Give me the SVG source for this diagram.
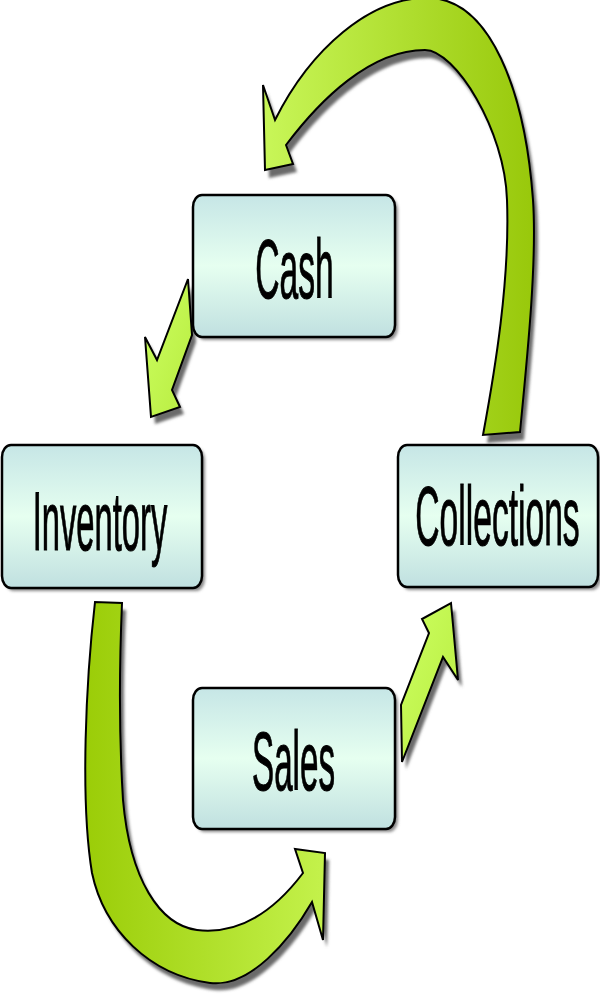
<svg xmlns="http://www.w3.org/2000/svg" width="600" height="1000" viewBox="0 0 600 1000">
  <defs>
    <linearGradient id="boxFill" x1="0" y1="0" x2="0" y2="1">
      <stop offset="0" stop-color="#c6e6e6"/>
      <stop offset="0.5" stop-color="#e6fff0"/>
      <stop offset="1" stop-color="#c0e0e0"/>
    </linearGradient>
    <linearGradient id="topArrowFill" gradientUnits="userSpaceOnUse" x1="265" y1="0" x2="535" y2="0">
      <stop offset="0" stop-color="#c8f658"/>
      <stop offset="1" stop-color="#98c80a"/>
    </linearGradient>
    <linearGradient id="botArrowFill" gradientUnits="userSpaceOnUse" x1="80" y1="0" x2="326" y2="0">
      <stop offset="0" stop-color="#9acc06"/>
      <stop offset="1" stop-color="#c4f24c"/>
    </linearGradient>
    <linearGradient id="smallArrowFill" x1="0" y1="0" x2="1" y2="1">
      <stop offset="0" stop-color="#ccff60"/>
      <stop offset="1" stop-color="#b8ec40"/>
    </linearGradient>
    <filter id="shadow" x="-20%" y="-20%" width="140%" height="140%">
      <feGaussianBlur stdDeviation="1.5"/>
    </filter>
    <style>
      .box { fill: url(#boxFill); stroke: #000; stroke-width: 2.5; }
      .boxShadow { fill: #8a8a8a; filter: url(#shadow); }
      .arrowShadow { fill: #6a6a6a; filter: url(#shadow); }
      .arrow { stroke: #000; stroke-width: 2; stroke-linejoin: miter; }
      .label { font-family: "Liberation Sans", Arial, sans-serif; font-size: 84px; fill: #000; stroke: #000; stroke-width: 0.8; vector-effect: non-scaling-stroke; text-anchor: middle; }
    </style>
  </defs>

  <g id="connectors">
    <g id="arrow-collections-cash">
      <path class="arrowShadow" transform="translate(4,8)" d="M275,120 L263,85 L265,170 L293,164 L286,145 C320,100 370,50 425,50 C455,50 505,130 507,200 C510,280 495,370 483,435 L520,432 C528,350 537,260 533,200 C525,90 490,0 430,-2 C370,-4 310,50 275,120 Z"/>
      <path class="arrow" fill="url(#topArrowFill)" d="M275,120 L263,85 L265,170 L293,164 L286,145 C320,100 370,50 425,50 C455,50 505,130 507,200 C510,280 495,370 483,435 L520,432 C528,350 537,260 533,200 C525,90 490,0 430,-2 C370,-4 310,50 275,120 Z"/>
    </g>
    <g id="arrow-cash-inventory">
      <path class="arrowShadow" transform="translate(4,7)" d="M188,279 L192,335 L172,390 L180,407 L151,417 L145,337 L157,360 Z"/>
      <path class="arrow" fill="url(#smallArrowFill)" d="M188,279 L192,335 L172,390 L180,407 L151,417 L145,337 L157,360 Z"/>
    </g>
    <g id="arrow-inventory-sales">
      <path class="arrowShadow" transform="translate(4,7)" d="M95,602 C86,680 80,800 92,873 C104,930 150,975 210,983 C250,988 290,940 312,902 L323,940 L325,853 L295,849 L303,873 C275,910 240,935 197,930 C160,925 130,880 123,800 C118,720 120,650 122,603 Z"/>
      <path class="arrow" fill="url(#botArrowFill)" d="M95,602 C86,680 80,800 92,873 C104,930 150,975 210,983 C250,988 290,940 312,902 L323,940 L325,853 L295,849 L303,873 C275,910 240,935 197,930 C160,925 130,880 123,800 C118,720 120,650 122,603 Z"/>
    </g>
    <g id="arrow-sales-collections">
      <path class="arrowShadow" transform="translate(4,7)" d="M401,705 L402,762 L443,657 L458,680 L451,603 L422,619 L429,633 Z"/>
      <path class="arrow" fill="url(#smallArrowFill)" d="M401,705 L402,762 L443,657 L458,680 L451,603 L422,619 L429,633 Z"/>
    </g>
  </g>

  <g id="node-cash">
    <rect class="boxShadow" x="196" y="198" width="202" height="142" rx="9" ry="12"/>
    <rect class="box" x="193" y="195" width="202" height="142" rx="9" ry="12"/>
    <text class="label" transform="translate(294.5,298) scale(0.4,1)">Cash</text>
  </g>

  <g id="node-inventory">
    <rect class="boxShadow" x="5" y="448" width="200" height="143" rx="9" ry="12"/>
    <rect class="box" x="2" y="445" width="200" height="143" rx="9" ry="12"/>
    <text class="label" transform="translate(100,550) scale(0.39,1)">Inventory</text>
  </g>

  <g id="node-collections">
    <rect class="boxShadow" x="401" y="448" width="200" height="142" rx="9" ry="12"/>
    <rect class="box" x="398" y="445" width="200" height="142" rx="9" ry="12"/>
    <text class="label" transform="translate(497.5,545) scale(0.4,1)">Collections</text>
  </g>

  <g id="node-sales">
    <rect class="boxShadow" x="196" y="691" width="202" height="141" rx="9" ry="12"/>
    <rect class="box" x="193" y="688" width="202" height="141" rx="9" ry="12"/>
    <text class="label" transform="translate(293.5,790) scale(0.395,1)">Sales</text>
  </g>
</svg>
